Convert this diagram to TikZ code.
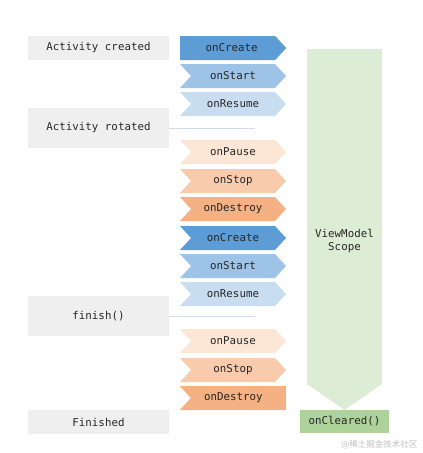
\documentclass[tikz,border=0pt]{standalone}
\usepackage{fontspec}
\setmonofont{DejaVu Sans Mono}
\newfontfamily\cjk{Noto Sans CJK SC}
\usepackage{tikz}
\usetikzlibrary{shapes.symbols, positioning}

\definecolor{boxgray}{HTML}{EFEFEF}
\definecolor{createblue}{HTML}{5E9CD6}
\definecolor{startblue}{HTML}{9DC3E6}
\definecolor{resumeblue}{HTML}{C9DDF1}
\definecolor{pauseorange}{HTML}{FCE6D6}
\definecolor{stoporange}{HTML}{F8CBAD}
\definecolor{destroyorange}{HTML}{F4B183}
\definecolor{scopegreen}{HTML}{DDEDD5}
\definecolor{clearedgreen}{HTML}{AED39A}
\definecolor{sepline}{HTML}{D3DBE6}

\tikzset{
  every node/.style={font=\ttfamily\fontsize{10.8}{12.5}\selectfont, text=black!85},
  statebox/.style={fill=boxgray, minimum width=141pt, inner sep=0pt},
  callback/.style={signal, signal from=west, signal to=east,
    signal pointer angle=95, minimum width=106pt, minimum height=24pt, inner sep=0pt},
}

\begin{document}
\begin{tikzpicture}[x=1pt, y=-1pt]
  \useasboundingbox (0,0) rectangle (423,453);

  % ViewModel scope (long arrow pointing down)
  \fill[scopegreen] (307,49) -- (382,49) -- (382,384) -- (344.5,410) -- (307,384) -- cycle;
  \node[align=center] (scope) at (344.5,241) {ViewModel\\Scope};
  \node[fill=clearedgreen, minimum width=89pt, minimum height=23pt, inner sep=0pt]
    (cleared) at (344.5,421.5) {onCleared()};

  % states of the activity
  \node[statebox, minimum height=24pt] (created) at (98.5,48) {Activity created};
  \node[statebox, minimum height=40pt] (rotated) at (98.5,128) {Activity rotated};
  \node[statebox, minimum height=40pt] (finish) at (98.5,316) {finish()};
  \node[statebox, minimum height=24pt] (finished) at (98.5,422) {Finished};

  % lifecycle callbacks
  \node[callback, fill=createblue, signal from=nowhere, anchor=west] (create1) at (180,48) {\hspace*{8pt}onCreate};
  \foreach \name/\y/\txt/\col in {start1/76/onStart/startblue, resume1/104/onResume/resumeblue,
      pause1/152/onPause/pauseorange, stop1/181/onStop/stoporange,
      destroy1/209/onDestroy/destroyorange, create2/238/onCreate/createblue,
      start2/266/onStart/startblue, resume2/294/onResume/resumeblue,
      pause2/341/onPause/pauseorange, stop2/370/onStop/stoporange}
    \node[callback, fill=\col] (\name) at (233,\y) {\txt};
  \node[callback, fill=destroyorange, signal to=nowhere, anchor=east] (destroy2) at (286,398) {onDestroy\hspace*{10pt}};

  % separators
  \coordinate (sep1) at (255,128);
  \coordinate (sep2) at (255,316);
  \draw[sepline, line width=0.6pt] (rotated.east) -- (sep1);
  \draw[sepline, line width=0.6pt] (finish.east) -- (sep2);

  % watermark
  \node[font=\cjk\fontsize{8.5}{10}\selectfont, text=black!25, anchor=east] (mark) at (421,445) {@稀土掘金技术社区};
\end{tikzpicture}
\end{document}
